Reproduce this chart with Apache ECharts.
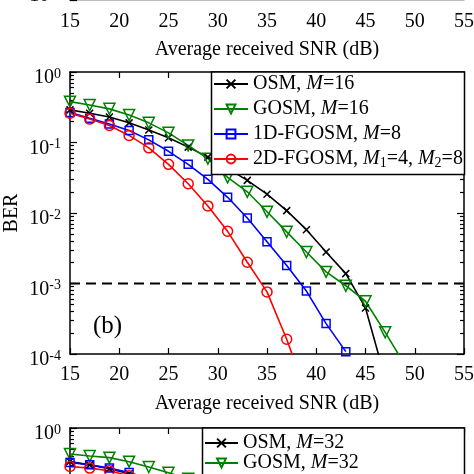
<!DOCTYPE html>
<html>
<head>
<meta charset="utf-8">
<script src="https://cdn.jsdelivr.net/npm/echarts@6/dist/echarts.min.js"></script>
<style>
  html, body { margin: 0; padding: 0; background: #fff; }
  #chart { width: 474px; height: 474px; }
</style>
</head>
<body>
<div id="chart"></div>
<script>
// SNR points (dB), every 2 dB
var snr = [15, 17, 19, 21, 23, 25, 27, 29, 31, 33, 35, 37, 39, 41, 43, 45, 47, 49];

// panel (b)
var osm16 = [0.29, 0.26, 0.23, 0.19, 0.15, 0.117, 0.086, 0.062, 0.043, 0.029, 0.0185, 0.0108, 0.0058, 0.0028, 0.00138, 0.00045, 0.000045];
var gosm16 = [0.38, 0.34, 0.30, 0.245, 0.19, 0.137, 0.091, 0.059, 0.032, 0.020, 0.0104, 0.0054, 0.0028, 0.00146, 0.00093, 0.00056, 0.000203, 0.00007];
var fgosm1d8 = [0.267, 0.22, 0.183, 0.148, 0.109, 0.075, 0.049, 0.030, 0.0167, 0.0085, 0.0039, 0.0018, 0.00078, 0.00027, 0.000108];
var fgosm2d48 = [0.26, 0.215, 0.174, 0.126, 0.084, 0.049, 0.026, 0.0126, 0.0055, 0.0020, 0.00076, 0.000162, 0.000028];
// target BER, dashed reference line across the plot
var refSnr = [15, 55];
var refBer = [0.001, 0.001];

// panel (c), only the top part is in view
var osm32 = [0.335, 0.30, 0.265, 0.225];
var gosm32 = [0.428, 0.40, 0.38, 0.333, 0.28, 0.232, 0.19];
var fgosm1d16 = [0.325, 0.30, 0.27, 0.234, 0.19];
var fgosm2d416 = [0.285, 0.27, 0.248, 0.21];

var decades = [0.0001, 0.001, 0.01, 0.1, 1];

var FONT = 'Liberation Serif';

// minor ticks of the log axis: 2..9 x 10^k
var minorVals = [];
for (var k = -4; k < 0; k++) {
    for (var m = 2; m <= 9; m++) minorVals.push(m * Math.pow(10, k));
}

function pairs(xs, ys) {
    var out = [];
    for (var i = 0; i < ys.length; i++) out.push([xs[i], ys[i]]);
    return out;
}

// legend labels with italic M and subscripts
var legendText = {
    'OSM16': '{n|OSM, }{i|M}{n|=16}',
    'GOSM16': '{n|GOSM, }{i|M}{n|=16}',
    '1D8': '{n|1D-FGOSM, }{i|M}{n|=8}',
    '2D48': '{n|2D-FGOSM, }{i|M}{s|1}{n|=4, }{i|M}{s|2}{n|=8}',
    'OSM32': '{n|OSM, }{i|M}{n|=32}',
    'GOSM32': '{n|GOSM, }{i|M}{n|=32}'
};

function legendRich(lh) {
    return {
        n: { fontFamily: FONT, fontSize: 20, color: '#000', lineHeight: lh },
        i: { fontFamily: FONT, fontSize: 20, fontStyle: 'italic', color: '#000', lineHeight: lh },
        s: { fontFamily: FONT, fontSize: 14, color: '#000', lineHeight: 10, verticalAlign: 'bottom' }
    };
}

function powLabel(pad) {
    return {
        show: true,
        margin: 9,
        padding: pad,
        customValues: decades,
        formatter: function (v) {
            return '{b|10}{s|' + Math.round(Math.log10(v)) + '}';
        },
        rich: {
            b: { fontFamily: FONT, fontSize: 20, color: '#000', lineHeight: 22 },
            s: { fontFamily: FONT, fontSize: 14, color: '#000', lineHeight: 8, verticalAlign: 'top' }
        }
    };
}

function xAx(grid, pos, labels, name, lineColor, margin) {
    return {
        gridIndex: grid, type: 'value', position: pos, min: 15, max: 55, interval: 5,
        name: name || '', nameLocation: 'middle', nameGap: 40,
        nameTextStyle: { fontFamily: FONT, fontSize: 20, color: '#000' },
        axisLine: { show: true, onZero: false, lineStyle: { color: lineColor || '#000', width: 1.5 } },
        axisTick: { show: true, inside: true, length: 6, lineStyle: { color: '#000', width: 1.2 } },
        axisLabel: { show: labels, margin: margin || 11, fontFamily: FONT, fontSize: 20, color: '#000' },
        splitLine: { show: false }
    };
}

function yAx(grid, pos, major, label) {
    return {
        gridIndex: grid, type: 'log', logBase: 10, position: pos, min: 0.0001, max: 1,
        axisLine: { show: major, onZero: false, lineStyle: { color: '#000', width: 1.5 } },
        axisTick: {
            show: true, inside: true, length: major ? 7 : 4,
            customValues: major ? decades : minorVals,
            lineStyle: { color: '#000', width: 1.2 }
        },
        axisLabel: label || { show: false },
        splitLine: { show: false }
    };
}

function line(name, xs, data, color, symbol, size, xi, yi) {
    return {
        name: name, type: 'line', xAxisIndex: xi, yAxisIndex: yi,
        data: pairs(xs, data),
        symbol: symbol, symbolSize: size,
        showAllSymbol: true, clip: true, z: 2,
        lineStyle: { color: color, width: 1.6 },
        itemStyle: { color: 'rgba(255,255,255,0)', borderColor: color, borderWidth: 1.5 }
    };
}

var xMark = 'path://M0,0L10,10M0,10L10,0';
var triDown = 'path://M0,0L10,0L5,9Z';

var chart = echarts.init(document.getElementById('chart'));

var refSeries = line('target', refSnr, refBer, '#000000', 'none', 0, 1, 1);
refSeries.lineStyle = { color: '#000', width: 2, type: [10, 6] };
refSeries.z = 1;

var option = {
    backgroundColor: '#fff',
    animation: false,
    grid: [
        { left: 70, width: 394, top: -282, height: 282, outerBoundsMode: 'none', containLabel: false },
        { left: 70, width: 394, top: 72, height: 282, outerBoundsMode: 'none', containLabel: false },
        { left: 70, width: 394, top: 428, height: 282, outerBoundsMode: 'none', containLabel: false }
    ],
    xAxis: [
        xAx(0, 'bottom', true, 'Average received SNR (dB)', '#aaa', 12),
        xAx(1, 'bottom', true, 'Average received SNR (dB)'),
        xAx(1, 'top', false),
        xAx(2, 'top', false)
    ],
    yAxis: [
        yAx(0, 'left', true, powLabel([0, 0, 8, 0])),
        (function () {
            var a = yAx(1, 'left', true, powLabel([12, 0, 0, 0]));
            a.name = 'BER';
            a.nameLocation = 'middle';
            a.nameGap = 48;
            a.nameRotate = 90;
            a.nameMoveOverlap = false;
            a.nameTextStyle = { fontFamily: FONT, fontSize: 20, color: '#000' };
            return a;
        })(),
        yAx(1, 'right', true),
        yAx(1, 'left', false),
        yAx(1, 'right', false),
        yAx(2, 'left', true, powLabel([12, 0, 0, 0])),
        yAx(2, 'left', false),
        yAx(2, 'right', true)
    ],
    legend: [
        {
            orient: 'vertical', left: 213, top: 74, padding: 0, itemGap: 5,
            itemWidth: 34, itemHeight: 11,
            data: ['OSM16', 'GOSM16', '1D8', '2D48'],
            formatter: function (n) { return legendText[n]; },
            textStyle: { rich: legendRich(22) },
            z: 6
        },
        {
            orient: 'vertical', left: 204, top: 433, height: 41, padding: 0, itemGap: 0,
            itemWidth: 33, itemHeight: 11,
            data: ['OSM32', 'GOSM32'],
            formatter: function (n) { return legendText[n]; },
            textStyle: { rich: legendRich(19) },
            z: 6
        }
    ],
    graphic: [
        {
            type: 'rect', z: 4, silent: true,
            shape: { x: 211.5, y: 72, width: 253, height: 102.5 },
            style: { fill: '#fff', stroke: '#000', lineWidth: 1.5 }
        },
        {
            type: 'rect', z: 4, silent: true,
            shape: { x: 202.5, y: 428, width: 262, height: 80 },
            style: { fill: '#fff', stroke: '#000', lineWidth: 1.5 }
        },
        {
            type: 'text', z: 5, left: 93, top: 314,
            style: { text: '(b)', fontFamily: FONT, fontSize: 25, fill: '#000' }
        }
    ],
    series: [
        refSeries,
        line('OSM16', snr, osm16, '#000000', xMark, 7, 1, 1),
        line('GOSM16', snr, gosm16, '#008000', triDown, 11, 1, 1),
        line('1D8', snr, fgosm1d8, '#0000ff', 'rect', 8, 1, 1),
        line('2D48', snr, fgosm2d48, '#ff0000', 'circle', 10, 1, 1),
        line('OSM32', snr, osm32, '#000000', xMark, 7, 3, 5),
        line('GOSM32', snr, gosm32, '#008000', triDown, 11, 3, 5),
        line('1D16', snr, fgosm1d16, '#0000ff', 'rect', 8, 3, 5),
        line('2D416', snr, fgosm2d416, '#ff0000', 'circle', 10, 3, 5)
    ]
};

chart.setOption(option);
</script>
</body>
</html>
